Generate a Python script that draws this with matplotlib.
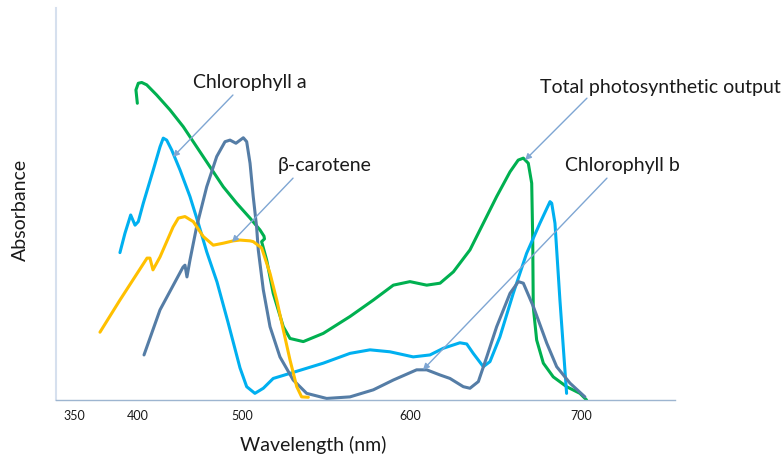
import numpy as np
import matplotlib
matplotlib.use("Agg")
import matplotlib.pyplot as plt

plt.rcParams['font.family'] = ['Lato', 'DejaVu Sans']

# wavelength ticks of the original drawing (not evenly spaced on the page)
tick_nm = [350, 400, 500, 600, 700]
tick_labels = ['350', '400', '500', '600', '700']

# Total photosynthetic output (green)
total_nm = [399.5, 398.4, 400.3, 403.6, 408.4, 418.0, 430.8, 443.6, 456.4, 469.2, 482.0, 494.9, 504.8,
            510.7, 513.1, 513.4, 511.7, 514.7, 518.6, 524.6, 528.6, 536.5, 548.4, 564.3, 578.2, 590.1,
            600.0, 609.8, 617.6, 625.4, 635.1, 642.9, 650.7, 658.5, 663.3, 666.3, 669.2, 671.2, 671.8,
            672.1, 674.1, 678.0, 683.8, 691.6, 699.4, 703.3]
total_abs = [0.757, 0.791, 0.808, 0.810, 0.804, 0.778, 0.740, 0.697, 0.646, 0.595, 0.544, 0.502, 0.464,
             0.434, 0.418, 0.411, 0.404, 0.357, 0.272, 0.187, 0.157, 0.149, 0.170, 0.213, 0.255, 0.293,
             0.302, 0.293, 0.298, 0.327, 0.383, 0.451, 0.519, 0.582, 0.612, 0.617, 0.604, 0.553, 0.408,
             0.238, 0.153, 0.094, 0.059, 0.034, 0.017, 0.0]

# Chlorophyll a (cyan)
chla_nm = [385.9, 389.8, 394.3, 397.7, 400.3, 405.1, 414.7, 421.2, 424.3, 427.6, 432.4, 440.4, 450.0,
           458.0, 466.1, 476.0, 486.5, 498.1, 502.8, 507.7, 512.7, 518.6, 528.6, 548.4, 564.3, 576.2,
           588.1, 601.9, 611.7, 619.5, 629.2, 633.2, 637.0, 642.9, 646.8, 652.6, 660.4, 668.2, 676.0,
           681.9, 682.9, 684.8, 687.7, 691.6]
chla_abs = [0.376, 0.425, 0.472, 0.446, 0.455, 0.502, 0.587, 0.646, 0.668, 0.663, 0.638, 0.587, 0.519,
            0.451, 0.378, 0.301, 0.199, 0.082, 0.034, 0.017, 0.030, 0.055, 0.068, 0.094, 0.119, 0.128,
            0.123, 0.110, 0.115, 0.132, 0.146, 0.143, 0.119, 0.085, 0.098, 0.161, 0.272, 0.374, 0.451,
            0.506, 0.502, 0.451, 0.255, 0.017]

# Chlorophyll b (steel blue)
chlb_nm = [405.8, 421.2, 443.3, 445.2, 447.1, 450.0, 456.4, 466.1, 475.7, 483.7, 488.5, 494.2, 500.8,
           502.8, 504.8, 506.7, 508.7, 509.7, 512.7, 516.7, 522.6, 530.5, 538.5, 550.4, 564.3, 578.2,
           590.1, 603.9, 609.8, 617.5, 623.4, 631.2, 635.1, 640.0, 644.9, 650.7, 658.5, 663.4, 666.3,
           672.2, 680.0, 685.8, 693.6, 702.3]
chlb_abs = [0.115, 0.230, 0.339, 0.344, 0.314, 0.357, 0.442, 0.544, 0.621, 0.659, 0.663, 0.655, 0.669,
            0.659, 0.604, 0.519, 0.442, 0.383, 0.281, 0.187, 0.110, 0.051, 0.017, 0.004, 0.008, 0.026,
            0.051, 0.077, 0.077, 0.064, 0.055, 0.034, 0.030, 0.047, 0.110, 0.187, 0.272, 0.302, 0.298,
            0.238, 0.145, 0.085, 0.043, 0.008]

# beta-carotene (yellow)
carot_nm = [370.3, 385.9, 408.7, 411.5, 414.4, 421.2, 433.7, 438.8, 445.2, 453.2, 462.8, 472.4, 482.0,
            491.6, 498.1, 504.8, 506.7, 511.7, 516.7, 520.7, 524.6, 528.6, 532.6, 535.5, 539.5]
carot_abs = [0.173, 0.255, 0.362, 0.362, 0.332, 0.365, 0.441, 0.464, 0.468, 0.455, 0.417, 0.395, 0.400,
             0.406, 0.408, 0.406, 0.404, 0.388, 0.323, 0.255, 0.179, 0.102, 0.034, 0.008, 0.007]

# labels: (text, text position, arrow tail, arrow head)
labels = [
    ('Chlorophyll a', (504.8, 0.809), (491.3, 0.778), (433.7, 0.620)),
    ('β-carotene', (549.4, 0.599), (530.4, 0.566), (490.4, 0.403)),
    ('Total photosynthetic output', (746.2, 0.796), (703.5, 0.770), (667.3, 0.612)),
    ('Chlorophyll b', (724.0, 0.599), (715.2, 0.566), (607.6, 0.077)),
]

# the page spacing of the wavelength scale is piecewise linear
scale_nm = [300, 350, 400, 500, 600, 700, 800]
scale_pos = [-46, 18, 82, 186, 354, 525, 696]


def fwd(x):
    return np.interp(x, scale_nm, scale_pos)


def inv(x):
    return np.interp(x, scale_pos, scale_nm)


fig = plt.figure(figsize=(7.83, 4.57), dpi=100)
ax = fig.add_axes([0.0715, 0.1247, 0.7905, 0.8578])
ax.set_xscale('function', functions=(fwd, inv))

line_kw = dict(lw=2.2, solid_capstyle='round', solid_joinstyle='round')
ax.plot(total_nm, total_abs, color='#00B050', **line_kw)
ax.plot(chla_nm, chla_abs, color='#00B0F0', **line_kw)
ax.plot(chlb_nm, chlb_abs, color='#557DA6', **line_kw)
ax.plot(carot_nm, carot_abs, color='#FFC000', **line_kw)

for txt, pos, tail, head in labels:
    ax.text(pos[0], pos[1], txt, ha='center', va='center', fontsize=14, color='#1a1a1a')
    ax.annotate('', xy=head, xytext=tail,
                arrowprops=dict(arrowstyle='-|>', color='#7FA6D3', lw=1.0,
                                mutation_scale=9, shrinkA=0, shrinkB=0))

ax.set_xlim(inv(0), inv(619))
ax.set_ylim(0, 1)
ax.set_xticks(tick_nm)
ax.set_xticklabels(tick_labels)
ax.set_yticks([])
ax.tick_params(axis='x', length=0, pad=7, labelsize=9, colors='#1a1a1a')

for s in ['top', 'right']:
    ax.spines[s].set_visible(False)
ax.spines['left'].set_color('#D6E0EE')
ax.spines['left'].set_linewidth(1.5)
ax.spines['bottom'].set_color('#9DB5D0')
ax.spines['bottom'].set_linewidth(1.0)

ax.set_xlabel('Wavelength (nm)', fontsize=14, color='#1a1a1a', va='center')
ax.xaxis.set_label_coords(0.415, -0.115)
ax.set_ylabel('Absorbance', fontsize=14, color='#1a1a1a', va='center')
ax.yaxis.set_label_coords(-0.058, 0.485)

fig.savefig('out.png', dpi=100, facecolor='white')
